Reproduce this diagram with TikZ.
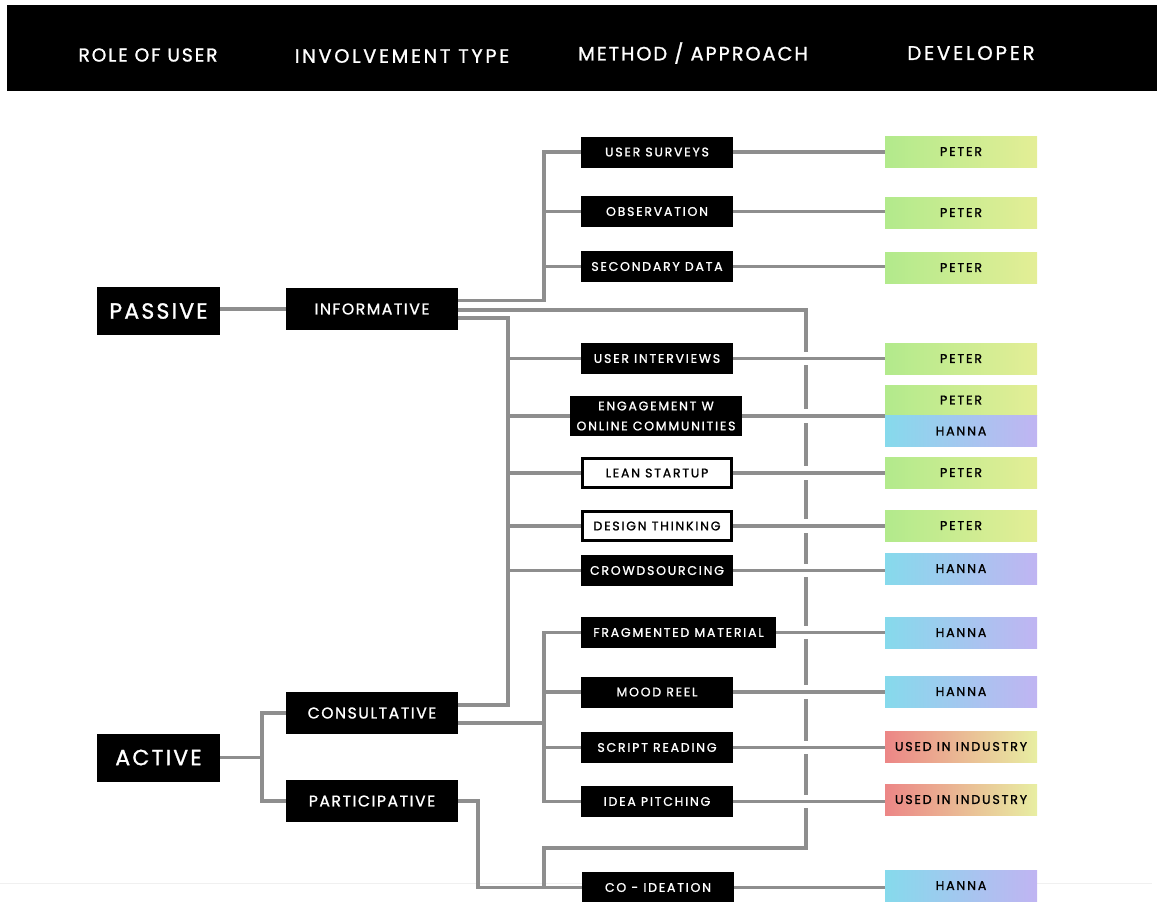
\documentclass[tikz,border=0pt]{standalone}
\usepackage{fontspec}
\setmainfont{Poppins}
\newfontfamily\widefont{Poppins}[LetterSpace=10,FakeBold=1.2]
\newfontfamily\widerfont{Poppins}[LetterSpace=14,FakeBold=1.2]
\usetikzlibrary{calc}
\definecolor{wire}{RGB}{142,142,142}
\definecolor{petL}{RGB}{178,234,140}
\definecolor{petR}{RGB}{228,238,150}
\definecolor{hanL}{RGB}{134,218,236}
\definecolor{hanR}{RGB}{192,180,242}
\definecolor{indL}{RGB}{236,134,134}
\definecolor{indR}{RGB}{232,238,162}
\definecolor{rule}{RGB}{240,240,240}
\begin{document}
\begin{tikzpicture}[x=0.75pt,y=-0.75pt,
  wire/.style={draw=wire,line width=2.3pt},
  jump/.style={wire,preaction={draw=white,line width=10pt}},
  head/.style={text=white,font=\widefont\fontsize{14.5}{16}\selectfont},
  role/.style={fill=black,text=white,inner sep=0pt,minimum width=92.25pt,minimum height=36pt,
    font=\widefont\fontsize{16.5}{18}\selectfont},
  kind/.style={fill=black,text=white,inner sep=0pt,minimum width=129pt,minimum height=31.5pt,
    font=\widefont\fontsize{11.7}{13}\selectfont},
  meth/.style={fill=black,text=white,inner sep=0pt,minimum width=114pt,minimum height=23.25pt,
    align=center,font=\widerfont\fontsize{9.4}{15}\selectfont},
  open/.style={meth,fill=white,text=black,draw=black,line width=2.25pt,
    minimum width=112pt,minimum height=21.5pt},
  dev/.style={inner sep=0pt,minimum width=114pt,minimum height=23.25pt,text=black,
    font=\widerfont\fontsize{9.5}{11}\selectfont},
  peter/.style={dev,left color=petL,right color=petR},
  hanna/.style={dev,left color=hanL,right color=hanR},
  industry/.style={dev,left color=indL,right color=indR}]
\useasboundingbox (0,0) rectangle (1157,901);

% faint base rule
\draw[rule,line width=0.75pt] (0,883) -- (1152,883);

% header band
\fill[black] (7,5) rectangle (1157,91);
\node[head,font=\widefont\fontsize{14}{16}\selectfont] (h1) at (148,55) {ROLE OF USER};
\node[head,font=\widerfont\fontsize{14.5}{16}\selectfont] (h2) at (402,56) {INVOLVEMENT TYPE};
\node[head] (h3) at (693,53) {METHOD / APPROACH};
\node[head,font=\widerfont\fontsize{14.8}{16}\selectfont] (h4) at (971,53) {DEVELOPER};

% roles and involvement types
\node[role] (pas) at (158.5,311) {PASSIVE};
\node[role] (act) at (158.5,757.5) {ACTIVE};
\node[kind] (inf) at (372,309) {INFORMATIVE};
\node[kind] (con) at (372,713) {CONSULTATIVE};
\node[kind] (par) at (372,801) {PARTICIPATIVE};

% methods
\node[meth] (us) at (657,152) {USER SURVEYS};
\node[meth] (ob) at (657,211.5) {OBSERVATION};
\node[meth] (sd) at (657,266.5) {SECONDARY DATA};
\node[meth] (ui) at (657,358.5) {USER INTERVIEWS};
\node[meth,minimum width=129pt,minimum height=30pt] (eng) at (656,416) {ENGAGEMENT W\\ONLINE COMMUNITIES};
\node[open] (ls) at (657,473) {LEAN STARTUP};
\node[open] (dt) at (657,526) {DESIGN THINKING};
\node[meth] (cs) at (657,570.5) {CROWDSOURCING};
\node[meth,minimum width=146.25pt] (fm) at (678.5,632.5) {FRAGMENTED MATERIAL};
\node[meth] (mr) at (657,692) {MOOD REEL};
\node[meth] (sr) at (657,747.5) {SCRIPT READING};
\node[meth] (ip) at (657,801.5) {IDEA PITCHING};
\node[meth] (co) at (658,887.5) {CO - IDEATION};

% developers
\node[peter] (d1) at (961,151.5) {PETER};
\node[peter] (d2) at (961,212.5) {PETER};
\node[peter] (d3) at (961,267.5) {PETER};
\node[peter] (d4) at (961,358.5) {PETER};
\node[peter,minimum height=22.5pt] (d5) at (961,400) {PETER};
\node[hanna] (d6) at (961,431) {HANNA};
\node[peter] (d7) at (961,472.5) {PETER};
\node[peter] (d8) at (961,525.5) {PETER};
\node[hanna] (d9) at (961,568.5) {HANNA};
\node[hanna] (d10) at (961,632.5) {HANNA};
\node[hanna] (d11) at (961,691.5) {HANNA};
\node[industry] (d12) at (961,746.5) {USED IN INDUSTRY};
\node[industry] (d13) at (961,799.5) {USED IN INDUSTRY};
\node[hanna] (d14) at (961,885.5) {HANNA};

% bus positions and exits
\coordinate (xa) at (262,0);
\coordinate (xb) at (508,0);
\coordinate (xu) at (544,0);
\coordinate (xd) at (478,0);
\coordinate (loopR) at (806,848);
\coordinate (loopL) at (544,848);
\coordinate (infHi) at ([yshift=6.25pt]inf.east);
\coordinate (infMid) at ([yshift=-0.75pt]inf.east);
\coordinate (infLo) at ([yshift=-6.75pt]inf.east);
\coordinate (conHi) at ([yshift=6pt]con.east);
\coordinate (conLo) at ([yshift=-7.5pt]con.east);

% role to type
\draw[wire] (pas.east |- inf.west) -- (inf.west);
\draw[wire] (act.east) -- (xa |- act.east);
\draw[wire] (con.west) -| (xa |- act.east) |- (par.west);

% informative: surveys branch
\draw[wire] (infHi) -| (xu |- us.west) -- (us.west);
\draw[wire] (xu |- ob.west) -- (ob.west);
\draw[wire] (xu |- sd.west) -- (sd.west);

% informative / consultative shared branch
\draw[wire] (infLo) -| (xb |- conHi) -- (conHi);
\foreach \m in {ui,eng,ls,dt,cs} \draw[wire] (xb |- \m.west) -- (\m.west);

% consultative: film methods
\draw[wire] (conLo) -- (xu |- conLo);
\draw[wire] (fm.west) -| (xu |- ip.west) -- (ip.west);
\draw[wire] (xu |- mr.west) -- (mr.west);
\draw[wire] (xu |- sr.west) -- (sr.west);

% informative loop down to co-ideation
\draw[wire] (infMid) -| (loopR) -| (loopL |- co.west);
\draw[wire] (par.east) -| (xd |- co.west) -- (co.west);

% methods to developers (crossing the loop)
\draw[jump] (us.east) -- (d1.west |- us.east);
\draw[jump] (ob.east) -- (d2.west |- ob.east);
\draw[jump] (sd.east) -- (d3.west |- sd.east);
\draw[jump] (ui.east) -- (d4.west |- ui.east);
\draw[jump] (eng.east) -- (d5.west |- eng.east);
\draw[jump] (ls.east) -- (d7.west |- ls.east);
\draw[jump] (dt.east) -- (d8.west |- dt.east);
\draw[jump] (cs.east) -- (d9.west |- cs.east);
\draw[jump] (fm.east) -- (d10.west |- fm.east);
\draw[jump] (mr.east) -- (d11.west |- mr.east);
\draw[jump] (sr.east) -- (d12.west |- sr.east);
\draw[jump] (ip.east) -- (d13.west |- ip.east);
\draw[jump] (co.east) -- (d14.west |- co.east);
\end{tikzpicture}
\end{document}
